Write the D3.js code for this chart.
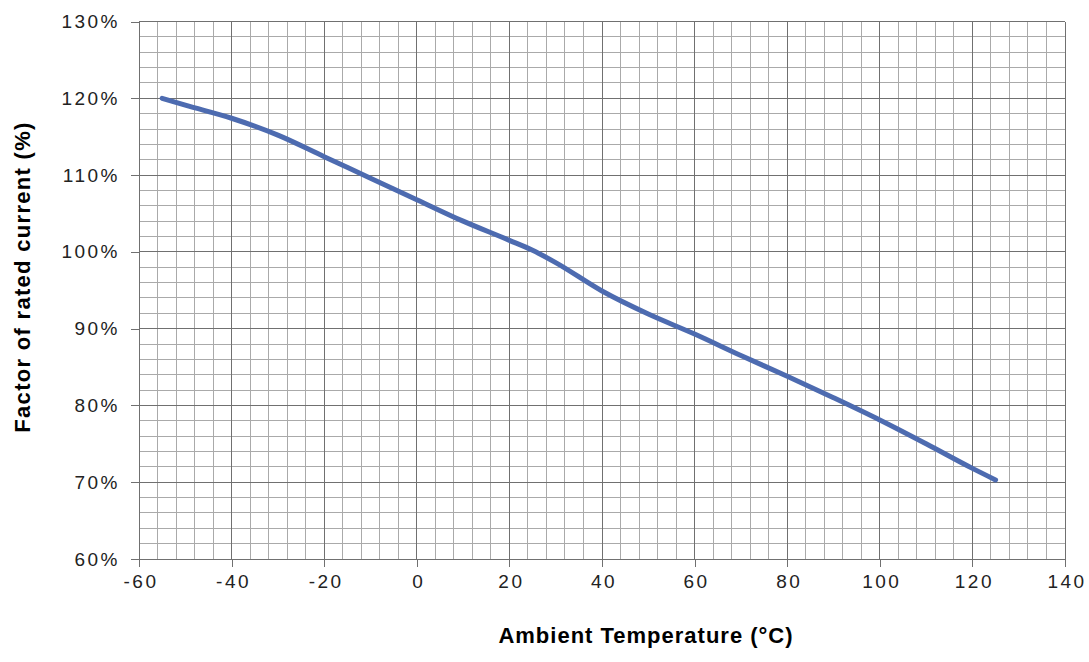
<!DOCTYPE html>
<html>
<head>
<meta charset="utf-8">
<script src="https://cdn.jsdelivr.net/npm/d3@7"></script>
<style>
  html, body { margin: 0; padding: 0; background: #fff; }
  svg { display: block; }
</style>
</head>
<body>
<svg id="chart" width="1089" height="662"></svg>
<script>
// ---- data ----
const temperatures = [-55, -50, -40, -30, -20, -10, 0, 10, 20, 25, 30, 40, 50, 60, 70, 80, 90, 100, 110, 120, 125];
const ratedFactor  = [120, 119.1, 117.4, 115.2, 112.4, 109.6, 106.8, 104.0, 101.5, 100.2, 98.6, 94.9, 91.9, 89.3, 86.5, 83.8, 81.0, 78.1, 75.0, 71.8, 70.3];
const xTicks = [-60, -40, -20, 0, 20, 40, 60, 80, 100, 120, 140];
const yTicks = [60, 70, 80, 90, 100, 110, 120, 130];
const xMinorStep = 4;
const yMinorStep = 2;
const xTitle = "Ambient Temperature (°C)";
const yTitle = "Factor of rated current (%)";

// ---- layout ----
const svg = d3.select("#chart");
const pLeft = 139, pRight = 1065, pTop = 21.5, pBottom = 559;

const x = d3.scaleLinear().domain([-60, 140]).range([pLeft, pRight]);
const y = d3.scaleLinear().domain([60, 130]).range([pBottom, pTop]);

const minorX = d3.range(-60, 140 + 0.001, xMinorStep);
const minorY = d3.range(60, 130 + 0.001, yMinorStep);

const grid = svg.append("g").attr("shape-rendering", "crispEdges");
grid.selectAll("line.mx").data(minorX).join("line")
  .attr("x1", d => x(d)).attr("x2", d => x(d))
  .attr("y1", pTop).attr("y2", pBottom)
  .attr("stroke", "#aaaaaa").attr("stroke-width", 1);
grid.selectAll("line.my").data(minorY).join("line")
  .attr("y1", d => y(d)).attr("y2", d => y(d))
  .attr("x1", pLeft).attr("x2", pRight)
  .attr("stroke", "#aaaaaa").attr("stroke-width", 1);
grid.selectAll("line.Mx").data(xTicks).join("line")
  .attr("x1", d => x(d)).attr("x2", d => x(d))
  .attr("y1", pTop).attr("y2", pBottom)
  .attr("stroke", "#707070").attr("stroke-width", 1);
grid.selectAll("line.My").data(yTicks).join("line")
  .attr("y1", d => y(d)).attr("y2", d => y(d))
  .attr("x1", pLeft).attr("x2", pRight)
  .attr("stroke", "#707070").attr("stroke-width", 1);

// axes
const xAxis = d3.axisBottom(x).tickValues(xTicks).tickSize(8).tickPadding(8).tickFormat(d => String(d));
const yAxis = d3.axisLeft(y).tickValues(yTicks).tickSize(8).tickPadding(11).tickFormat(d => d + "%");

const gx = svg.append("g").attr("transform", `translate(0,${pBottom})`).call(xAxis);
const gy = svg.append("g").attr("transform", `translate(${pLeft},0)`).call(yAxis);
[gx, gy].forEach(g => {
  g.select(".domain").attr("stroke", "#707070").attr("shape-rendering", "crispEdges");
  g.selectAll(".tick line").attr("stroke", "#707070").attr("shape-rendering", "crispEdges");
  g.selectAll(".tick text")
    .attr("fill", "#222")
    .style("font-family", "'Liberation Sans', Arial, sans-serif")
    .style("font-size", "19px")
    .style("letter-spacing", "2.5px");
});
gx.selectAll(".tick text").attr("dx", "1.5px");

// line
const line = d3.line()
  .x((d, i) => x(temperatures[i]))
  .y(d => y(d))
  .curve(d3.curveMonotoneX);
svg.append("path")
  .datum(ratedFactor)
  .attr("d", line)
  .attr("fill", "none")
  .attr("stroke", "#4d6bb0")
  .attr("stroke-width", 5)
  .attr("stroke-linecap", "round")
  .attr("stroke-linejoin", "round");

// titles
svg.append("text")
  .attr("x", 646).attr("y", 643)
  .attr("text-anchor", "middle")
  .style("font-family", "'Liberation Sans', Arial, sans-serif")
  .style("font-weight", "bold")
  .style("font-size", "22px")
  .style("letter-spacing", "1px")
  .attr("fill", "#000")
  .text(xTitle);

svg.append("text")
  .attr("transform", "translate(30,277) rotate(-90)")
  .attr("text-anchor", "middle")
  .style("font-family", "'Liberation Sans', Arial, sans-serif")
  .style("font-weight", "bold")
  .style("font-size", "22px")
  .style("letter-spacing", "1.3px")
  .attr("fill", "#000")
  .text(yTitle);
</script>
</body>
</html>
